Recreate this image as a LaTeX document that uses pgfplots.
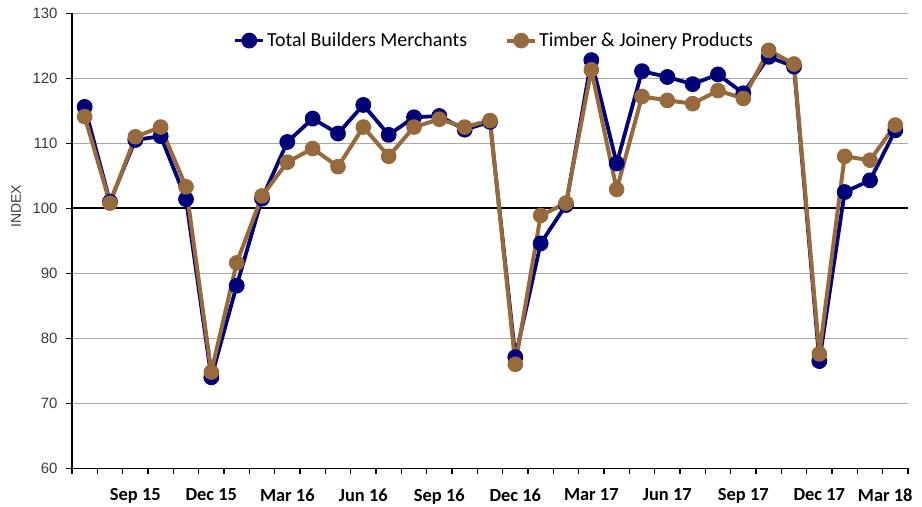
\documentclass[border=0pt]{standalone}
\usepackage{pgfplots}
\pgfplotsset{compat=1.18}
\usepackage{pgfplotstable}
\usepackage{fontspec}
\setmainfont{Carlito}
\newfontfamily\ticksans{Liberation Sans}
\definecolor{navy}{RGB}{0,0,120}
\definecolor{timber}{RGB}{150,106,60}
\definecolor{gridgray}{RGB}{170,170,170}
\definecolor{ticktext}{RGB}{60,60,60}

\pgfplotstableread{
x total timber
0 115.6 114.1
1 101.0 100.8
2 110.5 111.0
3 111.1 112.5
4 101.4 103.3
5 74.0 74.8
6 88.1 91.6
7 101.5 101.9
8 110.2 107.1
9 113.8 109.2
10 111.5 106.4
11 115.9 112.5
12 111.3 108.0
13 114.0 112.5
14 114.2 113.7
15 112.1 112.5
16 113.3 113.5
17 77.1 76.0
18 94.6 98.9
19 100.5 100.8
20 122.8 121.3
21 106.9 102.9
22 121.1 117.2
23 120.2 116.6
24 119.1 116.1
25 120.6 118.1
26 117.7 116.9
27 123.3 124.3
28 121.8 122.2
29 76.5 77.6
30 102.5 108.0
31 104.3 107.4
32 112.0 112.8
}\datatable

\begin{document}
\begin{tikzpicture}
\begin{axis}[
  scale only axis, width=836bp, height=455bp,
  xmin=-0.5, xmax=32.5, ymin=60, ymax=130,
  /pgf/number format/assume math mode=true,
  axis x line=bottom, axis y line=left,
  axis line style={-, line width=1.5bp, black},
  ytick={60,70,80,90,100,110,120,130},
  yticklabels={60,70,80,90,100,110,120,130},
  yticklabel style={font=\ticksans\fontsize{15}{18}\selectfont, color=ticktext, xshift=-5bp},
  ymajorgrids, grid style={gridgray, line width=1bp},
  tick align=outside, major tick length=6bp,
  tick style={black, line width=1.2bp},
  xtick={-0.5,0.5,...,32.5}, xticklabels={},
  extra x ticks={2,5,8,11,14,17,20,23,26,29,31.6},
  extra x tick labels={Sep 15,Dec 15,Mar 16,Jun 16,Sep 16,Dec 16,Mar 17,Jun 17,Sep 17,Dec 17,Mar 18},
  extra x tick style={major tick length=0pt, grid=none,
    tick label style={font=\bfseries\fontsize{18.5}{22}\selectfont, black, yshift=-17bp}},
  extra y ticks={100}, extra y tick labels={},
  extra y tick style={grid=major, major grid style={black, line width=2bp}},
  ylabel={\ticksans INDEX},
  ylabel style={font=\fontsize{14}{16}\selectfont, color=ticktext,
    at={(axis description cs:0,0.576)}, yshift=56bp, anchor=center},
  legend style={at={(axis description cs:0.505,0.94)}, anchor=center,
    draw=none, fill=none, font=\fontsize{20}{24}\selectfont,
    /tikz/every even column/.append style={column sep=36bp}},
  legend columns=2,
  legend image code/.code={\draw[mark repeat=2,mark phase=2] plot coordinates {(0bp,0bp)(14bp,0bp)(28bp,0bp)};},
]
\addplot[navy, line width=3.8bp, line join=round, mark=*, mark size=6bp] table[x=x,y=total]{\datatable};
\addlegendentry{Total Builders Merchants}
\addplot[timber, line width=4bp, line join=round, mark=*, mark size=5.8bp] table[x=x,y=timber]{\datatable};
\addlegendentry{Timber \& Joinery Products}
\end{axis}
\pgfresetboundingbox
\path[use as bounding box] (-72bp,-38bp) rectangle (850bp,468.3bp);
\end{tikzpicture}
\end{document}
